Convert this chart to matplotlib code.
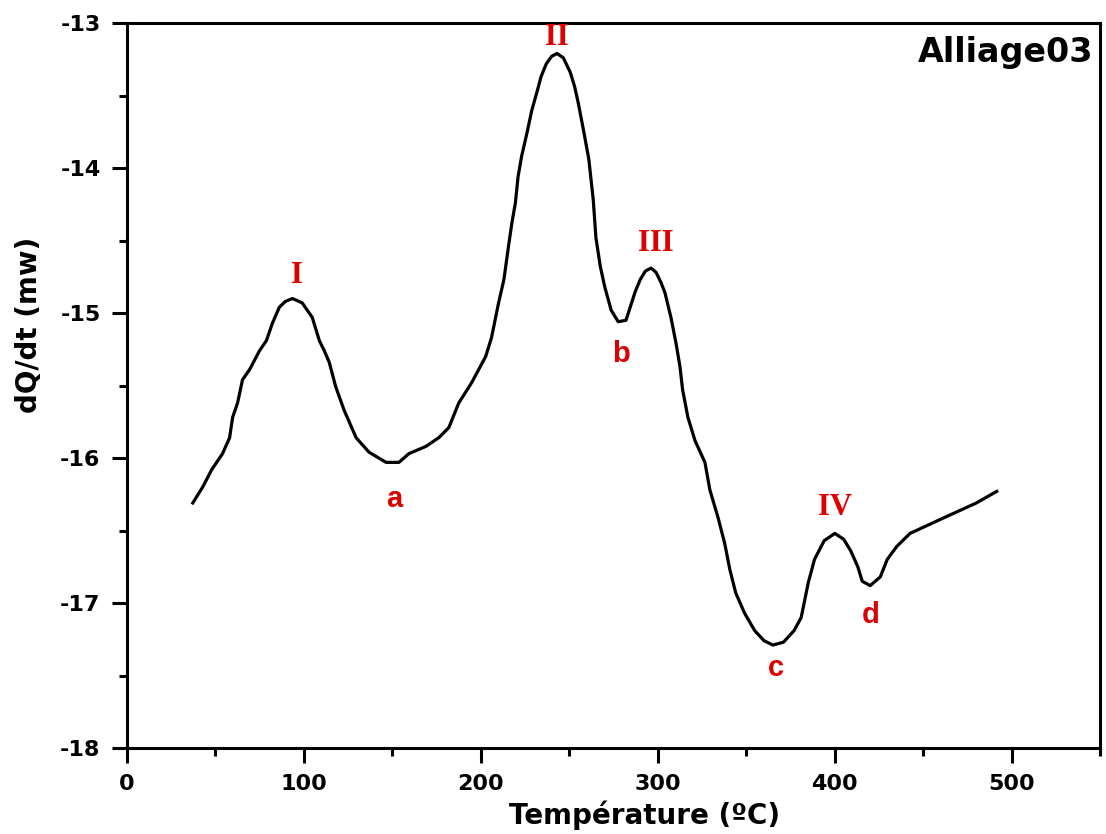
import matplotlib
matplotlib.use("Agg")
import matplotlib.pyplot as plt
from matplotlib.ticker import MultipleLocator

plt.rcParams['axes.unicode_minus'] = False
plt.rcParams['font.family'] = ['DejaVu Sans']

# curve: temperature (C) and dQ/dt (mw)
temp = [37.2, 42.8, 47.9, 54, 58, 59.7, 62.5, 65.3, 69.3, 74.9, 78.8, 82.2, 86.1, 89.5,
        93.5, 99, 104.7, 108.7, 111.5, 114.3, 118, 122.7, 129.5, 136.8, 146.4, 153.7,
        159.3, 168.9, 176.2, 181.9, 187.5, 194.8, 202.7, 206, 210, 213, 215.6, 217.5,
        219.5, 221, 223, 226, 228.8, 231.6, 234, 237, 240, 243, 246.6, 250.5, 253, 255,
        258, 261, 263.5, 265, 267.5, 270, 273.6, 277.6, 282, 287, 290, 293, 296.2,
        299, 301.8, 304, 307.4, 310.3, 312.5, 314, 317, 321, 326.6, 329.4, 334, 337.8,
        340.7, 344, 349, 354.7, 360, 365, 371, 377, 381, 383, 385, 388.5, 394, 400,
        405, 409, 413, 415.5, 420, 425.7, 429.6, 435, 442.5, 462, 480, 491.5]
dqdt = [-16.31, -16.20, -16.08, -15.97, -15.86, -15.72, -15.62, -15.46, -15.39, -15.26,
        -15.19, -15.07, -14.96, -14.92, -14.90, -14.93, -15.03, -15.19, -15.26, -15.34,
        -15.51, -15.67, -15.86, -15.96, -16.03, -16.03, -15.97, -15.92, -15.86, -15.79,
        -15.62, -15.48, -15.30, -15.17, -14.93, -14.77, -14.54, -14.38, -14.24, -14.06,
        -13.92, -13.76, -13.60, -13.48, -13.37, -13.28, -13.23, -13.21, -13.24, -13.34,
        -13.44, -13.55, -13.74, -13.94, -14.22, -14.48, -14.68, -14.82, -14.98, -15.06,
        -15.05, -14.86, -14.77, -14.71, -14.69, -14.72, -14.79, -14.86, -15.03, -15.21,
        -15.37, -15.53, -15.72, -15.88, -16.03, -16.22, -16.41, -16.59, -16.77, -16.93,
        -17.07, -17.19, -17.26, -17.29, -17.27, -17.19, -17.10, -16.98, -16.86, -16.70,
        -16.57, -16.52, -16.56, -16.64, -16.75, -16.85, -16.88, -16.82, -16.70, -16.61,
        -16.52, -16.41, -16.31, -16.23]

# peak / valley labels
peak_names = ['I', 'II', 'III', 'IV']
peak_x = [96, 243, 299, 400]
peak_y = [-14.74, -13.10, -14.52, -16.34]
valley_names = ['a', 'b', 'c', 'd']
valley_x = [151, 279, 366.5, 420]
valley_y = [-16.28, -15.28, -17.45, -17.08]

fig = plt.figure(figsize=(11.06, 8.34), dpi=100)
ax = fig.add_axes([0.1148, 0.1031, 0.880, 0.8693])

ax.plot(temp, dqdt, color='black', lw=2.3)

for name, x, y in zip(peak_names, peak_x, peak_y):
    ax.text(x, y, name, color='#dd0000', fontsize=22, fontweight='bold',
            family=['Liberation Serif', 'DejaVu Serif'], ha='center', va='center')
for name, x, y in zip(valley_names, valley_x, valley_y):
    ax.text(x, y, name, color='#dd0000', fontsize=21, fontweight='bold',
            family=['Liberation Sans', 'DejaVu Sans'], ha='center', va='center')

ax.text(546, -13.2, 'Alliage03', fontsize=24, fontweight='bold', ha='right', va='center')

ax.set_xlim(0, 550)
ax.set_ylim(-18, -13)
ax.xaxis.set_major_locator(MultipleLocator(100))
ax.xaxis.set_minor_locator(MultipleLocator(50))
ax.yaxis.set_major_locator(MultipleLocator(1))
ax.yaxis.set_minor_locator(MultipleLocator(0.5))
ax.tick_params(which='major', direction='out', length=11, width=2.2, pad=8,
               labelsize=16, top=False, right=False)
ax.tick_params(which='minor', direction='out', length=5.5, width=2.2, top=False, right=False)
for lab in ax.get_xticklabels() + ax.get_yticklabels():
    lab.set_fontweight('bold')
for sp in ax.spines.values():
    sp.set_linewidth(2.2)

ax.set_xlabel('Température (ºC)', fontsize=20, fontweight='bold')
ax.set_ylabel('dQ/dt (mw)', fontsize=20, fontweight='bold')
ax.xaxis.set_label_coords(0.532, -0.072)
ax.yaxis.set_label_coords(-0.086, 0.583)

fig.savefig('out.png', dpi=100)
